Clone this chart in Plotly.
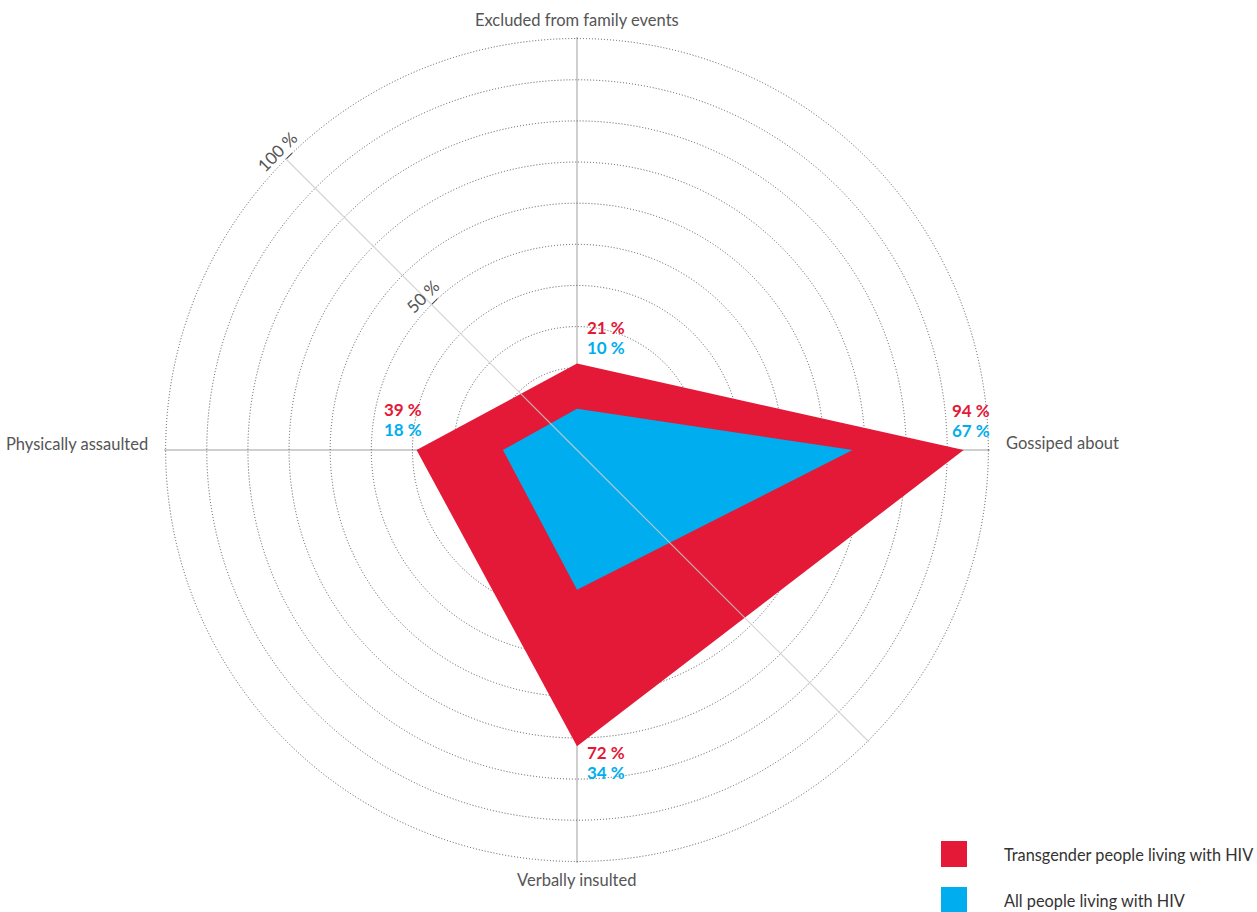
import math
import plotly.graph_objects as go

# Stigma experiences, share of respondents (%)
categories = ["Gossiped about", "Excluded from family events", "Physically assaulted", "Verbally insulted"]
angles = [0, 90, 180, 270]
transgender = [94, 21, 39, 72]
all_people = [67, 10, 18, 34]
series_names = ["Transgender people living with HIV", "All people living with HIV"]
radial_ticks = [50, 100]
radial_labels = ["50 %", "100 %"]

RED = "#E31937"
BLUE = "#00AEEF"
FONT = "Lato, 'Open Sans', sans-serif"

W, H = 1257, 912
# square plotting area (pixels) for the polar chart
CX, CY, RAD = 577, 450, 413
R_MAX = 100.4
dom_x = [(CX - RAD) / W, (CX + RAD) / W]
dom_y = [(H - CY - RAD) / H, (H - CY + RAD) / H]


def to_paper(r, theta):
    px = CX + RAD * r / R_MAX * math.cos(math.radians(theta))
    py = CY - RAD * r / R_MAX * math.sin(math.radians(theta))
    return px / W, 1 - py / H


fig = go.Figure()
for vals, name, col in [(transgender, series_names[0], RED), (all_people, series_names[1], BLUE)]:
    fig.add_trace(go.Scatterpolar(
        r=vals + vals[:1], theta=angles + angles[:1], mode="none",
        fill="toself", fillcolor=col, name=name, subplot="polar",
        showlegend=False,
    ))

# second radial axis pointing up-left that carries the 50 / 100 % ticks
fig.add_trace(go.Scatterpolar(r=[0], theta=[0], mode="none", subplot="polar2",
                              showlegend=False, hoverinfo="skip"))

grid_dot = "rgba(70,70,70,0.9)"
fig.update_layout(
    width=W, height=H,
    margin=dict(l=0, r=0, t=0, b=0),
    paper_bgcolor="white",
    font=dict(family=FONT, color="#555"),
    showlegend=False,
    polar=dict(
        domain=dict(x=dom_x, y=dom_y),
        bgcolor="rgba(0,0,0,0)",
        radialaxis=dict(
            range=[0, R_MAX], tickvals=list(range(10, 101, 10)), showticklabels=False,
            ticks="", showgrid=True, gridcolor=grid_dot, griddash="1px,2px", gridwidth=1,
            angle=-45, showline=True, linecolor="rgba(205,205,205,0.85)", linewidth=1.2,
            layer="above traces",
        ),
        angularaxis=dict(
            tickmode="array", tickvals=angles, showticklabels=False,
            rotation=0, direction="counterclockwise",
            showline=False, ticks="",
            showgrid=True, gridcolor="rgba(135,135,135,0.8)", gridwidth=1.3,
            layer="above traces",
        ),
    ),
    polar2=dict(
        domain=dict(x=dom_x, y=dom_y),
        bgcolor="rgba(0,0,0,0)",
        radialaxis=dict(
            range=[0, R_MAX], tickvals=radial_ticks, showticklabels=False,
            angle=135, showline=True, linecolor="rgba(205,205,205,0.85)", linewidth=1.2,
            showgrid=False, ticks="outside", ticklen=8, tickcolor="#444", tickwidth=1.3,
            layer="above traces",
        ),
        angularaxis=dict(visible=False),
    ),
)

# category names just outside the outer ring
cat_place = {
    0: dict(xanchor="left", yanchor="middle", xshift=14, yshift=7),
    90: dict(xanchor="center", yanchor="bottom", xshift=0, yshift=5),
    180: dict(xanchor="right", yanchor="middle", xshift=-14, yshift=6),
    270: dict(xanchor="center", yanchor="top", xshift=0, yshift=-5),
}
for th, name in zip(angles, categories):
    x, y = to_paper(R_MAX, th)
    fig.add_annotation(x=x, y=y, xref="paper", yref="paper", text=name, showarrow=False,
                       font=dict(size=16.5, color="#555", family=FONT), **cat_place[th])

# radial tick labels, turned across the up-left axis
for val, lab in zip(radial_ticks, radial_labels):
    x, y = to_paper(val, 135)
    fig.add_annotation(x=x, y=y, xref="paper", yref="paper", text=lab, showarrow=False,
                       textangle=-45, xanchor="center", yanchor="middle",
                       xshift=-9, yshift=8,
                       font=dict(size=17, color="#555", family=FONT))

# value labels beside each red vertex
offsets = {0: (7, 40), 90: (29, 36), 180: (-14, 41), 270: (29, -6)}
for th, tv, av in zip(angles, transgender, all_people):
    x, y = to_paper(tv, th)
    dx, dy = offsets[th]
    for txt, col, extra in [(f"{tv} %", RED, 0), (f"{av} %", BLUE, -20)]:
        fig.add_annotation(x=x, y=y, xref="paper", yref="paper", text=f"<b>{txt}</b>",
                           showarrow=False, xanchor="center", yanchor="middle",
                           xshift=dx, yshift=dy + extra,
                           font=dict(size=17, color=col, family=FONT))

# legend swatches
legend_rows = [(854, RED, series_names[0]), (900, BLUE, series_names[1])]
for yc, col, name in legend_rows:
    fig.add_shape(type="rect", xref="paper", yref="paper",
                  x0=941 / W, x1=967 / W, y0=1 - (yc + 13) / H, y1=1 - (yc - 13) / H,
                  fillcolor=col, line=dict(width=0))
    fig.add_annotation(x=1002 / W, y=1 - yc / H, xref="paper", yref="paper", text=name,
                       showarrow=False, xanchor="left", yanchor="middle",
                       font=dict(size=16.3, color="#333", family=FONT))

fig.write_html("out.html")
